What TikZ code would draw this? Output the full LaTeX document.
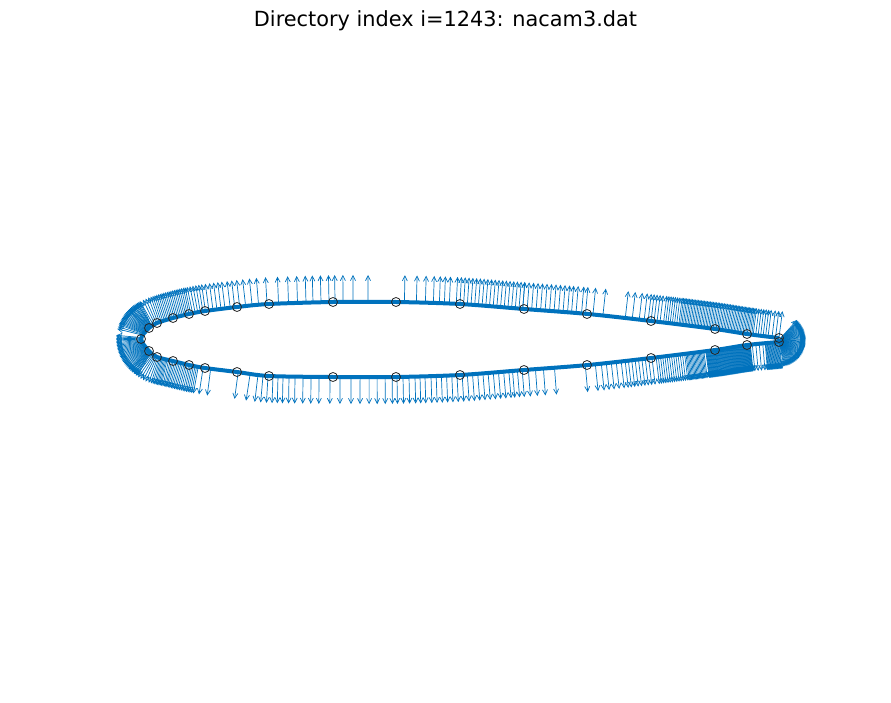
\documentclass[tikz,border=0pt]{standalone}
\usepackage{fontspec}
\setmainfont{DejaVu Sans}
\usetikzlibrary{arrows.meta,calc,decorations.markings}
\definecolor{quiverblue}{HTML}{0072BD}
\newcommand{\quiverarrow}{\draw[quiverline] (0pt,0pt) -- (0pt,-27pt);}
\tikzset{
  quiverline/.style={draw=quiverblue,line width=.7pt,-{Straight Barb[length=5pt,width=5pt]}},
  contour/.style={draw=quiverblue,line width=4pt},
  quiverpath/.style={postaction={decorate},decoration={markings}},
  knotmark/.style={circle,draw=black!85,line width=.8pt,minimum size=9pt,inner sep=0pt},
  quiverlead/.code={\def\leadlen{#1}},
  quiverrun/.style args={#1/#2/#3}{decoration={mark=between positions (#1+\leadlen)*1pt and (#2+\leadlen)*1pt step #3pt with {\quiverarrow}}},
  quiverat/.style={decoration={mark=at position (#1+\leadlen)*1pt with {\quiverarrow}}}
}
\begin{document}
\begin{tikzpicture}[x=1pt,y=1pt]
  \useasboundingbox (0,0) rectangle (891,-703);

  \node[inner sep=0pt,font=\fontsize{20.85pt}{26pt}\selectfont] (plottitle) at (445.5,-21) {Directory index i=1243: nacam3.dat};

  \draw[contour] plot[smooth] coordinates {(779,-338) (747,-334) (715,-329) (651,-321) (588,-314) (524,-309) (460,-304) (396,-302) (333,-302) (269,-304) (237,-307) (205,-311) (189,-314) (173,-318) (157,-323) (149,-328) (141,-339) (149,-351) (157,-357) (173,-361) (189,-365) (205,-368) (237,-372) (269,-376) (333,-377) (396,-377) (460,-375) (524,-370) (588,-365) (651,-358) (715,-350) (747,-345) (779,-342)};

  % upper surface, trailing edge to mid chord
  \path[quiverpath,quiverlead=30.3,
    quiverrun/.list={0/10/3.5,11/25/2.5,26/100/1.5,101/118/2.2,120/132/3},
    quiverat/.list={136,141,148,155,177.5,187.5,195,199,204.5,209},
    quiverrun/.list={213/258/4.5,258/328/3.7},
    quiverat/.list={331.5,336.5,341.5,347.5,355.5,364.5,376.5}]
    plot[smooth] coordinates {(809,-342) (779,-338) (747,-334) (715,-329) (651,-321) (588,-314) (524,-309) (460,-304) (396,-302) (333,-302)};

  % around the leading edge
  \path[quiverpath,quiverlead=0,
    quiverat/.list={28,43,53,61,67,75,83,90,98.5,107.5,117.5,129,137.5,144,150.5,156.5,161.5,166,171.3,175.3,179.4,183.4,187.5},
    quiverrun/.list={191/205/2.6,206/252/1.7,279/300/1.2,301/332/1.6},
    quiverat/.list={336.4,344,371.7,383.8,391.7,396.8,401.8,406.8,411.8,416.8,422.8,428.8,436.8,444.8,452.8,463.8,473.9,484.9,493.9,502.9,510.9,518.9,525.9}]
    plot[smooth] coordinates {(396,-302) (333,-302) (269,-304) (237,-307) (205,-311) (189,-314) (173,-318) (157,-323) (149,-328) (141,-339) (149,-351) (157,-357) (173,-361) (189,-365) (205,-368) (237,-372) (269,-376) (333,-377) (396,-377) (460,-375)};

  % lower surface, mid chord to trailing edge
  \path[quiverpath,quiverlead=63,
    quiverat/.list={1,7,13,19,24,29},
    quiverrun/.list={35/113/5.2},
    quiverat/.list={116.7,121.6,126.4,132.6,139.7,147.7,158.8,189.7,199.8,205.8,210.8,215.8,220.8,225.8,229.8},
    quiverrun/.list={233/260/3.4,261/290/2.2,291/310/1.2,311/356/.5,358/370/3.5,371/385/.7}]
    plot[smooth] coordinates {(333,-377) (396,-377) (460,-375) (524,-370) (588,-365) (651,-358) (715,-350) (747,-345) (779,-342) (809,-338)};

  % fans at the two edges
  \coordinate (tail) at (779,-340);
  \foreach \a in {48,45.5,...,-80}
    \draw[quiverline] (tail) -- ++(\a:27);
  \coordinate (nose) at (158,-339);
  \foreach \a in {116,118,...,160,163,166,175,177,...,242}
    \draw[quiverline] ($(nose)+(\a:15)$) -- ++(\a:27);

  \foreach \px/\py [count=\i] in {779/338,747/334,715/329,651/321,587/314,524/309,460/304,396/302,333/302,269/304,237/307,205/311,189/314,173/318,157/323,149/328,141/339,149/351,157/357,173/361,189/365,205/368,237/372,269/376,333/377,396/377,460/375,524/370,587/365,651/358,715/350,747/345,779/342}
    \node[knotmark] (knot\i) at (\px,-\py) {};
\end{tikzpicture}
\end{document}
